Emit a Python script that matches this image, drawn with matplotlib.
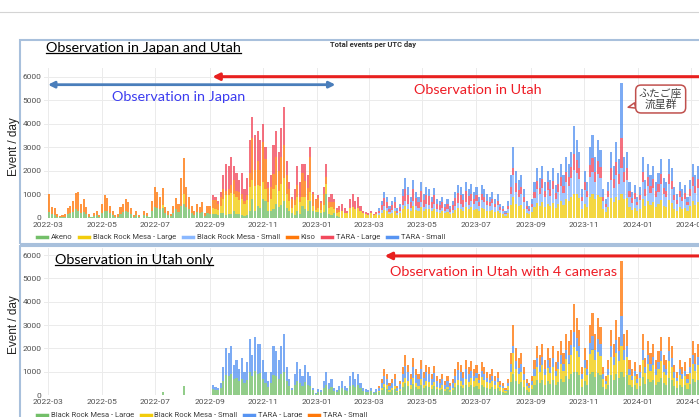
import numpy as np
import matplotlib
matplotlib.use('Agg')
import matplotlib.pyplot as plt
import matplotlib.dates as mdates
from matplotlib.lines import Line2D
from matplotlib.patches import Rectangle

# events per UTC day, sampled every 3 days
BIN_DAYS = 3
FIRST_DAY = np.datetime64('2022-03-01')
N_BINS = 250

akeno_start = '2022-03-01'
akeno = [250, 150, 120, 50, 20, 40, 50, 150, 200, 250,
         350, 300, 200, 250, 150, 50, 20, 80, 100, 40,
         200, 300, 300, 180, 100, 40, 50, 150, 250, 300,
         250, 150, 40, 100, 40, 0, 120, 80, 20, 300,
         450, 400, 350, 400, 200, 120, 60, 200, 350, 250,
         500, 600, 450, 350, 200, 120, 250, 180, 250, 80,
         200, 150, 150, 150, 120, 200, 200, 100, 150, 150,
         300, 150, 150, 100, 80, 100, 300, 800, 300, 500,
         400, 800, 700, 300, 300, 350, 600, 450, 550, 700,
         400, 300, 200, 100, 300, 150, 500, 350, 300, 700,
         300, 250, 250, 200, 250, 1000, 150, 100, 200, 80, 40]

kiso_start = '2022-03-01'
kiso = [750, 300, 280, 100, 40, 60, 100, 270, 280, 450,
        700, 800, 400, 550, 300, 100, 30, 120, 200, 60,
        400, 650, 550, 320, 200, 60, 100, 300, 350, 480,
        400, 250, 60, 200, 60, 0, 180, 120, 30, 400,
        850, 700, 550, 700, 250, 180, 90, 300, 500, 350,
        1200, 1550, 850, 550, 300, 180, 350, 270, 400, 120,
        300, 350, 350, 400, 280, 400, 400, 200, 250, 350,
        600, 250, 350, 200, 120, 200, 600, 1800, 700, 1000,
        700, 1700, 1300, 600, 500, 650, 1200, 850, 1150, 1400,
        800, 500, 400, 200, 500, 250, 1000, 650, 500, 1500,
        500, 450, 450, 300, 450, 300, 250, 200, 300, 120, 60]

brm_large_start = '2022-08-31'
brm_large = [0, 250, 200, 200, 300, 600, 850, 800, 900, 700,
             750, 600, 700, 500, 650, 1000, 800, 1050, 900, 950,
             700, 500, 350, 500, 850, 800, 700, 900, 1000, 600,
             400, 200, 450, 600, 500, 400, 550, 450, 400, 200,
             60, 150, 120, 300, 450, 250, 350, 180, 120, 220,
             300, 220, 180, 400, 450, 350, 420, 280, 180, 150,
             120, 180, 100, 150,
             120, 210, 330, 270, 150, 210, 270, 120, 180, 360,
             500, 390, 270, 480, 330, 270, 450, 300, 390, 360,
             270, 380, 240, 210, 270, 180, 240, 150, 210, 330,
             420, 390, 300, 450, 360, 440, 330, 390, 270, 420,
             360, 300, 270, 330, 240, 300, 180, 150, 90, 210,
             540, 900, 600, 480, 540, 360, 210, 150, 240, 450,
             630, 510, 660, 450, 600, 480, 630, 420, 570, 690,
             540, 800, 700, 900, 1000, 1000, 850, 360, 600, 450,
             900, 1000, 780, 950, 870, 360, 240, 450, 840, 660,
             900, 750, 1000, 780, 840, 450, 330, 420, 270, 390,
             780, 480, 690, 540, 660, 450, 570, 750, 510, 450,
             750, 630, 390, 300, 450, 360, 420, 270, 480, 690,
             540, 660, 450, 570]
# two single test nights before regular operation
brm_large_test_days = ['2022-07-08', '2022-08-01']
brm_large_test_vals = [150, 400]

tara_large_start = '2022-08-31'
tara_large = [0, 200, 150, 100, 200, 600, 1150, 1000, 1200, 600,
              750, 500, 900, 500, 750, 1400, 900, 1450, 1300, 1250,
              800, 500, 250, 500, 1250, 1100, 800, 1200, 1600, 600,
              300, 100, 450, 800, 600, 400, 750, 550, 400, 100,
              40, 100, 80, 300, 550, 250, 350, 120, 80, 180,
              300, 180, 120, 400, 550, 350, 480, 220, 120, 100,
              80, 120, 50, 100,
              120, 220, 340, 270, 150, 220, 280, 120, 190, 370,
              510, 400, 270, 480, 340, 280, 460, 300, 390, 370,
              270, 380, 240, 210, 270, 180, 240, 150, 210, 330,
              430, 390, 300, 450, 370, 290, 200, 230, 160, 250,
              220, 180, 160, 200, 140, 180, 110, 90, 50, 120,
              320, 300, 360, 290, 320, 220, 120, 90, 140, 270,
              360, 290, 370, 260, 340, 270, 360, 240, 320, 390,
              310, 420, 380, 450, 650, 550, 470, 200, 340, 260,
              510, 600, 440, 560, 490, 200, 140, 260, 480, 370,
              550, 430, 1300, 440, 480, 260, 190, 240, 150, 220,
              440, 270, 390, 310, 370, 260, 320, 430, 290, 260,
              430, 360, 220, 170, 260, 200, 240, 150, 270, 390,
              310, 370, 260, 320]

brm_small_start = '2023-03-11'
brm_small = [60, 100, 160, 140, 80, 100, 130, 60, 90, 180,
             230, 190, 140, 240, 170, 130, 220, 150, 200, 180,
             140, 190, 120, 110, 140, 90, 120, 80, 110, 170,
             210, 200, 150, 230, 180, 290, 270, 330, 230, 350,
             300, 250, 230, 280, 200, 250, 150, 130, 80, 180,
             450, 900, 500, 400, 450, 300, 180, 130, 200, 380,
             590, 480, 620, 420, 560, 450, 590, 390, 530, 640,
             500, 730, 650, 800, 1050, 900, 780, 340, 560, 420,
             840, 950, 730, 900, 810, 340, 220, 420, 780, 620,
             900, 700, 1100, 730, 780, 420, 310, 390, 250, 360,
             730, 450, 640, 500, 620, 420, 530, 700, 480, 420,
             700, 590, 360, 280, 420, 340, 390, 250, 450, 640,
             500, 620, 420, 530]

tara_small_start = '2023-03-11'
tara_small = [100, 170, 270, 220, 120, 170, 220, 100, 140, 290,
              460, 320, 220, 400, 260, 220, 370, 250, 320, 290,
              220, 300, 200, 170, 220, 150, 200, 120, 170, 270,
              340, 320, 250, 370, 290, 430, 300, 350, 240, 380,
              320, 270, 240, 290, 220, 270, 160, 130, 80, 190,
              490, 900, 540, 430, 490, 320, 190, 130, 220, 400,
              520, 420, 550, 370, 500, 400, 520, 350, 480, 580,
              450, 650, 570, 650, 1200, 850, 700, 300, 500, 370,
              750, 950, 650, 890, 730, 300, 200, 370, 700, 550,
              850, 620, 2350, 650, 700, 370, 270, 350, 230, 330,
              650, 400, 580, 450, 550, 370, 480, 620, 420, 370,
              620, 520, 330, 250, 370, 300, 350, 230, 400, 580,
              450, 550, 370, 480]

japan_period = ('2022-03-01', '2023-01-22')
utah_from = '2022-09-04'
utah4_from = '2023-03-19'
geminids_day = '2023-12-21'


def bin_index(day):
    return int((np.datetime64(day) - FIRST_DAY).astype(int)) // BIN_DAYS


def on_grid(start, values):
    out = np.zeros(N_BINS)
    i0 = bin_index(start)
    out[i0:i0 + len(values)] = values
    return out


bin_days = FIRST_DAY + BIN_DAYS * np.arange(N_BINS)
x = mdates.date2num(bin_days) + BIN_DAYS / 2

s_akeno = on_grid(akeno_start, akeno)
s_kiso = on_grid(kiso_start, kiso)
s_brm_l = on_grid(brm_large_start, brm_large)
for d, v in zip(brm_large_test_days, brm_large_test_vals):
    s_brm_l[bin_index(d)] += v
s_brm_s = on_grid(brm_small_start, brm_small)
s_tara_l = on_grid(tara_large_start, tara_large)
s_tara_s = on_grid(tara_small_start, tara_small)

GREEN, YELLOW, LBLUE = '#73BF69', '#F2CC0C', '#8AB8FF'
ORANGE, RED, BLUE = '#FF780A', '#F2495C', '#5794F2'

top_series = [('Akeno', s_akeno, GREEN),
              ('Black Rock Mesa - Large', s_brm_l, YELLOW),
              ('Black Rock Mesa - Small', s_brm_s, LBLUE),
              ('Kiso', s_kiso, ORANGE),
              ('TARA - Large', s_tara_l, RED),
              ('TARA - Small', s_tara_s, BLUE)]
bottom_series = [('Black Rock Mesa - Large', s_brm_l, GREEN),
                 ('Black Rock Mesa - Small', s_brm_s, YELLOW),
                 ('TARA - Large', s_tara_l, BLUE),
                 ('TARA - Small', s_tara_s, ORANGE)]

W, H = 699, 417
fig = plt.figure(figsize=(W / 100, H / 100), dpi=100)


def fx(px):
    return px / W


def fy(py):
    return 1 - py / H


# page furniture
fig.add_artist(Line2D([0, 1], [fy(12), fy(12)], transform=fig.transFigure, color='#d4d4d4', lw=0.8))
fig.add_artist(Rectangle((fx(20), fy(244)), fx(700), 204 / H, transform=fig.transFigure,
                         fill=False, ec='#a8c0dc', lw=1.5))
fig.add_artist(Rectangle((fx(20), fy(440)), fx(700), 194 / H, transform=fig.transFigure,
                         fill=False, ec='#a8c0dc', lw=1.5))

d0 = mdates.date2num(FIRST_DAY)
PX_PER_DAY = 0.879
xlim = (d0 - (48 - 44) / PX_PER_DAY, d0 + (720 - 48) / PX_PER_DAY)

ax1 = fig.add_axes([fx(44), fy(217.7), (720 - 44) / W, (217.7 - 68) / H])
ax2 = fig.add_axes([fx(44), fy(395), (720 - 44) / W, (395 - 248) / H])

tick_font = dict(family='Roboto', size=6, color='#505050')
for ax, series, ytop in [(ax1, top_series, 6370), (ax2, bottom_series, 6300)]:
    bottom = np.zeros(N_BINS)
    for name, vals, col in series:
        ax.bar(x, vals, width=BIN_DAYS * 0.8, bottom=bottom, color=col, alpha=0.78,
               linewidth=0, label=name)
        bottom = bottom + vals
    ax.set_xlim(*xlim)
    ax.set_ylim(0, ytop)
    ax.set_yticks(np.arange(0, 7000, 1000))
    ax.xaxis.set_major_locator(mdates.MonthLocator(bymonth=[1, 3, 5, 7, 9, 11]))
    ax.xaxis.set_major_formatter(mdates.DateFormatter('%Y-%m'))
    ax.grid(color='#ebebeb', lw=0.7)
    ax.set_axisbelow(True)
    for sp in ax.spines.values():
        sp.set_visible(False)
    ax.tick_params(length=0, pad=3)
    for lab in ax.get_xticklabels() + ax.get_yticklabels():
        lab.set_fontfamily(tick_font['family'])
        lab.set_fontsize(tick_font['size'])
        lab.set_color(tick_font['color'])
    ax.tick_params(axis='y', pad=2)

for ax, series, ly in [(ax1, top_series, 237), (ax2, bottom_series, 415)]:
    handles = [Line2D([], [], color=c, lw=2.5) for _, _, c in series]
    fig.legend(handles, [n for n, _, _ in series], loc='center left',
               bbox_to_anchor=(fx(33), fy(ly)), ncol=len(series), frameon=False,
               prop={'family': 'Roboto', 'size': 5.5}, labelcolor='#404040',
               handlelength=1.3, handletextpad=0.5, columnspacing=0.9, borderpad=0)

fig.text(fx(373), fy(44), 'Total events per UTC day', ha='center', va='center',
         family='Roboto', weight='bold', size=5.5, color='#333333')
for yc in (147, 325):
    fig.text(fx(14), fy(yc), 'Event / day', rotation=90, ha='center', va='center',
             family='Liberation Sans', size=8.5, color='#222222')

slide = dict(family='Lato', size=10.4)
t1 = fig.text(fx(46), fy(48), 'Observation in Japan and Utah', ha='left', va='center',
              color='black', **slide)
t2 = fig.text(fx(55), fy(260), 'Observation in Utah only', ha='left', va='center',
              color='black', **slide)
fig.text(fx(179), fy(97), 'Observation in Japan', ha='center', va='center',
         color='#3c3cf0', **slide)
fig.text(fx(478), fy(90), 'Observation in Utah', ha='center', va='center',
         color='#ee1c25', **slide)
fig.text(fx(504), fy(272), 'Observation in Utah with 4 cameras', ha='center', va='center',
         color='#ee1c25', **slide)

dn = lambda s: mdates.date2num(np.datetime64(s))
ax1.annotate('', xy=(dn(japan_period[0]), 5660), xytext=(dn(japan_period[1]), 5660),
             arrowprops=dict(arrowstyle='<|-|>', color='#4a7ebb', lw=2, mutation_scale=9,
                             shrinkA=0, shrinkB=0))
ax1.annotate('', xy=(dn(utah_from), 6000), xytext=(dn('2024-05-01'), 6000),
             arrowprops=dict(arrowstyle='-|>', color='#e8201f', lw=2.2, mutation_scale=10,
                             shrinkA=0, shrinkB=0), annotation_clip=False)
ax2.annotate('', xy=(dn(utah4_from), 5960), xytext=(dn('2024-05-01'), 5960),
             arrowprops=dict(arrowstyle='-|>', color='#e8201f', lw=2.2, mutation_scale=10,
                             shrinkA=0, shrinkB=0), annotation_clip=False)

ax1.annotate('ふたご座\n流星群', xy=(dn(geminids_day), 4700), xytext=(dn('2024-01-27'), 5050),
             ha='center', va='center', fontsize=7.8, color='#404040', linespacing=1.05,
             family=['Noto Sans CJK JP', 'DejaVu Sans'],
             bbox=dict(boxstyle='round,pad=0.3,rounding_size=0.5', fc='white',
                       ec='#c0504d', lw=1.1),
             arrowprops=dict(arrowstyle='wedge,tail_width=0.5', fc='white', ec='#c0504d',
                             lw=1.1, shrinkA=0, shrinkB=0),
             annotation_clip=False)

# underline the two panel headings
fig.canvas.draw()
for t in (t1, t2):
    bb = t.get_window_extent()
    yl = bb.y0 + 1
    fig.add_artist(Line2D([bb.x0 / W, bb.x1 / W], [yl / H, yl / H],
                          transform=fig.transFigure, color='black', lw=0.9))

fig.savefig('out.png', dpi=100)
